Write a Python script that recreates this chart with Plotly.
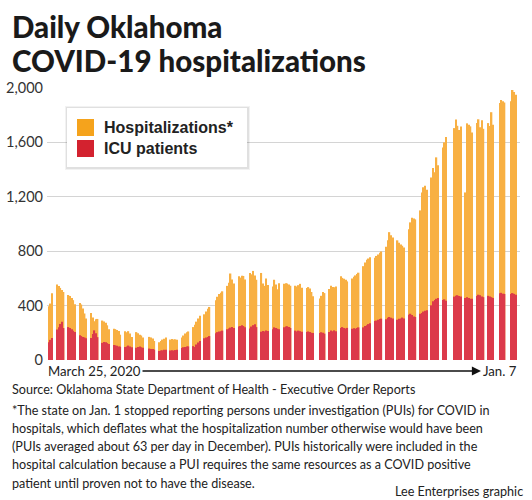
import pandas as pd
import plotly.graph_objects as go

# weekday reports, no report on these holidays
holidays = ["2020-05-25", "2020-07-03", "2020-09-07", "2020-11-26",
            "2020-11-27", "2020-12-25", "2021-01-01"]
report_dates = pd.bdate_range("2020-03-25", "2021-01-07", freq="C", holidays=holidays)

# total hospitalizations, one line per week of reports
hospitalized = [
    395, 415, 490,
    555, 545, 530, 515, 500,
    478, 470, 455, 440, 410,
    420, 408, 378, 342, 305,
    345, 312, 285, 300, 302,
    290, 284, 274, 255, 226,
    230, 227, 220, 214, 186,
    212, 204, 212, 194, 170,
    205, 196, 186, 180, 165,
    170, 165, 158, 140,
    130, 140, 150, 156, 165,
    150, 155, 150, 152, 148,
    166, 180, 194, 204, 210,
    242, 260, 282, 305, 326,
    336, 356, 376, 390,
    440, 465, 485, 495, 505,
    545, 568, 636, 592, 562,
    615, 606, 620, 618, 592,
    640, 630, 655, 622, 590,
    640, 562, 545, 600, 552,
    540, 590, 556, 520, 565,
    560, 565, 562, 556, 546,
    546, 540, 550, 560, 532,
    530, 536, 525, 500, 468,
    452, 472, 500, 492,
    522, 546, 536, 535, 540,
    615, 604, 598, 590, 578,
    600, 612, 622, 632, 642,
    690, 716, 738, 746, 756,
    752, 765, 776, 788, 798,
    832, 880, 940, 918, 900,
    880, 862, 850, 840, 828,
    962, 1012, 1046, 1040, 1034,
    1100, 1232, 1270, 1282, 1252,
    1342, 1412, 1380, 1490, 1432,
    1562, 1600, 1640,
    1705, 1768, 1722, 1692, 1716,
    1232, 1740, 1730, 1718, 1672,
    1742, 1770, 1712, 1762, 1700,
    1742, 1720, 1822, 1730,
    1890, 1912, 1902, 1894,
    1902, 1985, 1970, 1950,
]

icu = [
    130, 148, 162,
    225, 240, 265, 282, 235,
    242, 236, 226, 215, 205,
    182, 176, 170, 166, 160,
    162, 192, 218, 196, 168,
    126, 132, 130, 124, 118,
    110, 108, 104, 100, 98,
    95, 100, 106, 100, 94,
    90, 96, 100, 94, 90,
    84, 80, 80, 76,
    66, 70, 71, 75, 76,
    70, 72, 70, 73, 75,
    88, 94, 96, 100, 100,
    102, 96, 114, 128, 140,
    160, 165, 170, 176,
    196, 205, 210, 212, 216,
    226, 232, 238, 242, 236,
    246, 250, 256, 250, 240,
    232, 246, 256, 262, 242,
    208, 214, 210, 216, 214,
    226, 240, 236, 230, 226,
    240, 246, 248, 242, 236,
    216, 210, 216, 212, 208,
    206, 210, 205, 200, 198,
    198, 204, 200, 194,
    206, 216, 212, 218, 212,
    236, 242, 236, 232, 236,
    230, 234, 230, 236, 240,
    240, 250, 256, 264, 270,
    286, 290, 296, 302, 304,
    300, 310, 316, 310, 306,
    296, 304, 306, 312, 306,
    332, 340, 330, 320, 316,
    340, 346, 356, 362, 366,
    402, 432, 442, 450, 456,
    442, 446, 436,
    466, 472, 476, 470, 466,
    456, 462, 456, 450, 450,
    470, 480, 476, 466, 462,
    472, 466, 462, 456,
    490, 494, 488, 486,
    486, 492, 486, 480,
]

y_ticks = [0, 400, 800, 1200, 1600, 2000]
series_names = ["Hospitalizations*", "ICU patients"]

ORANGE = "#f8b043"
RED = "#dc3a4a"
BODY = "Lato, Roboto, sans-serif"
W, H = 532, 500
L, R, T, B = 47, 12, 88, 140


def px_x(px):
    return (px - L) / (W - L - R)


def px_y(py):
    return (H - B - py) / (H - T - B)


fig = go.Figure()
fig.add_trace(go.Bar(x=report_dates, y=hospitalized, name=series_names[0],
                     marker=dict(color=ORANGE, line_width=0)))
fig.add_trace(go.Bar(x=report_dates, y=icu, name=series_names[1],
                     marker=dict(color=RED, line_width=0)))

shapes = [
    # legend box with a soft shadow
    dict(type="rect", xref="paper", yref="paper", x0=px_x(65), x1=px_x(250),
         y0=px_y(106), y1=px_y(170), fillcolor="rgba(0,0,0,0.05)", line_width=0),
    dict(type="rect", xref="paper", yref="paper", x0=px_x(66), x1=px_x(249),
         y0=px_y(107), y1=px_y(169), fillcolor="rgba(0,0,0,0.07)", line_width=0),
    dict(type="rect", xref="paper", yref="paper", x0=px_x(67), x1=px_x(247),
         y0=px_y(108), y1=px_y(167), fillcolor="white", line_width=0),
    dict(type="rect", xref="paper", yref="paper", x0=px_x(77), x1=px_x(94),
         y0=px_y(119), y1=px_y(136), fillcolor="#f5a31c", line_width=0),
    dict(type="rect", xref="paper", yref="paper", x0=px_x(77), x1=px_x(94),
         y0=px_y(140), y1=px_y(157), fillcolor="#d3222f", line_width=0),
]

annotations = [
    dict(text="Daily Oklahoma", x=px_x(10), y=px_y(27)),
    dict(text="COVID-19 hospitalizations", x=px_x(10), y=px_y(61)),
]
for a in annotations:
    a.update(xref="paper", yref="paper", xanchor="left", yanchor="middle",
             showarrow=False, font=dict(family="Lato, Liberation Sans", size=29.5,
                                        color="#1a1a1a", weight=900))

annotations += [
    dict(text=series_names[0], x=px_x(102), y=px_y(127.5), xref="paper", yref="paper",
         xanchor="left", yanchor="middle", showarrow=False,
         font=dict(family="Liberation Sans", size=16, color="#222", weight="bold")),
    dict(text=series_names[1], x=px_x(102), y=px_y(148.5), xref="paper", yref="paper",
         xanchor="left", yanchor="middle", showarrow=False,
         font=dict(family="Liberation Sans", size=16, color="#222", weight="bold")),
    dict(text="March 25, 2020", x=report_dates[0], xshift=-3, y=px_y(371), xref="x",
         yref="paper", xanchor="left", yanchor="middle", showarrow=False,
         font=dict(family=BODY, size=13.2, color="#222")),
    dict(text="Jan. 7", x=report_dates[-1], xshift=3, y=px_y(371), xref="x",
         yref="paper", xanchor="right", yanchor="middle", showarrow=False,
         font=dict(family=BODY, size=13.2, color="#222")),
    dict(text="", x=px_x(481), y=px_y(371), xref="paper", yref="paper",
         ax=-340, ay=0, showarrow=True, arrowhead=2, arrowsize=1.3,
         arrowwidth=1.4, arrowcolor="#111", standoff=0),
]

foot = [
    "Source: Oklahoma State Department of Health - Executive Order Reports",
    "*The state on Jan. 1 stopped reporting persons under investigation (PUIs) for COVID in",
    "hospitals, which deflates what the hospitalization number otherwise would have been",
    "(PUIs averaged about 63 per day in December). PUIs historically were included in the",
    "hospital calculation because a PUI requires the same resources as a COVID positive",
    "patient until proven not to have the disease.",
]
foot_y = [389, 410, 428.3, 446.6, 464.9, 483.2]
for line, py in zip(foot, foot_y):
    annotations.append(dict(text=line, x=px_x(10), y=px_y(py), xref="paper", yref="paper",
                            xanchor="left", yanchor="middle", showarrow=False,
                            font=dict(family=BODY, size=12.6, color="#222")))
annotations.append(dict(text="Lee Enterprises graphic", x=px_x(525), y=px_y(491),
                        xref="paper", yref="paper", xanchor="right", yanchor="middle",
                        showarrow=False, font=dict(family=BODY, size=12.6, color="#222")))

fig.update_layout(
    width=W, height=H, autosize=False,
    margin=dict(l=L, r=R, t=T, b=B, pad=0),
    paper_bgcolor="white", plot_bgcolor="white",
    barmode="overlay", bargap=0.12, showlegend=False,
    shapes=shapes, annotations=annotations,
    xaxis=dict(type="date", range=["2020-03-23 18:00", "2021-01-09 12:00"],
               showgrid=False, showticklabels=False, ticks="", zeroline=False,
               showline=False, fixedrange=True, automargin=False),
    yaxis=dict(range=[0, 2000], tickvals=y_ticks, tickformat=",", showgrid=True,
               gridcolor="#d4d4d4", gridwidth=1, zeroline=True, zerolinecolor="white",
               showline=False, ticks="", ticklabelstandoff=3, automargin=False,
               tickfont=dict(family=BODY, size=14.5, color="#333"), fixedrange=True),
)

fig.write_html("out.html", config={"displayModeBar": False},
               post_script="document.body.style.margin = '0';")
